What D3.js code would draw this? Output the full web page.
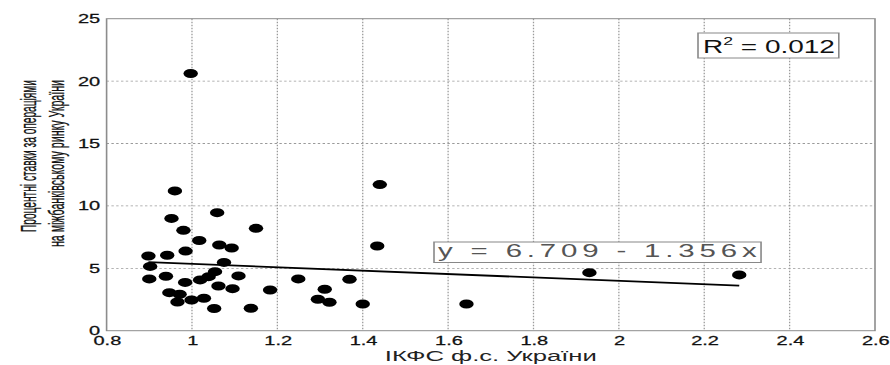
<!DOCTYPE html>
<html>
<head>
<meta charset="utf-8">
<script src="https://cdn.jsdelivr.net/npm/d3@7"></script>
<style>
  body { margin: 0; background: #fff; }
  svg { display: block; }
  text { font-family: "Liberation Sans", Arial, Helvetica, sans-serif; }
</style>
</head>
<body>
<svg id="chart" width="890" height="365"></svg>
<script>
// ІКФС (x) against interbank rates (y), one entry per observation
const ikfs = [
  0.997, 0.960, 1.059, 0.952, 0.980, 1.150, 1.017, 1.440, 1.064, 1.093,
  1.434, 0.898, 0.942, 0.985, 1.075, 0.902, 1.054, 0.900, 0.939, 1.109,
  1.039, 1.019, 0.984, 1.062, 1.095, 1.183, 1.249, 1.369, 1.311, 1.295,
  1.322, 1.400, 1.643, 1.931, 2.282, 0.947, 0.971, 0.966, 0.999, 1.028,
  1.052, 1.138
];
const rates = [
  20.61, 11.20, 9.46, 9.00, 8.04, 8.20, 7.23, 11.71, 6.87, 6.63,
  6.79, 5.99, 6.05, 6.38, 5.47, 5.15, 4.73, 4.15, 4.36, 4.39,
  4.33, 4.07, 3.87, 3.58, 3.37, 3.26, 4.15, 4.12, 3.32, 2.52,
  2.28, 2.14, 2.14, 4.65, 4.47, 3.05, 2.92, 2.30, 2.46, 2.60,
  1.78, 1.80
];

const xTicks = [0.8, 1, 1.2, 1.4, 1.6, 1.8, 2, 2.2, 2.4, 2.6];
const yTicks = [0, 5, 10, 15, 20, 25];

// linear fit y = a + b·x and its R²
const fitIntercept = 6.709;
const fitSlope = -1.356;
const rSquared = 0.012;

const xLabel = "ІКФС ф.с. України";
const yLabelLines = ["Процентні ставки за операціями", "на міжбанківському ринку України"];

// the whole figure is drawn in a horizontally widened frame
const SX = 1.6;
const svg = d3.select("#chart");
svg.append("rect").attr("width", 890).attr("height", 365).attr("fill", "#fff");
const g = svg.append("g").attr("transform", `scale(${SX},1)`);

const x = d3.scaleLinear().domain([0.8, 2.6]).range([106.6 / SX, 875 / SX]);
const y = d3.scaleLinear().domain([0, 25]).range([330.7, 18.7]);

// dotted grid
const grid = g.append("g").attr("fill", "none").attr("stroke", "#9a9a9a")
  .attr("stroke-width", 0.8).attr("stroke-dasharray", "1.5,1.5");
grid.selectAll("line.v").data(xTicks.slice(1, -1)).join("line")
  .attr("class", "v")
  .attr("x1", d => x(d)).attr("x2", d => x(d))
  .attr("y1", y(25)).attr("y2", y(0));
grid.selectAll("line.h").data(yTicks.slice(1, -1)).join("line")
  .attr("class", "h")
  .attr("x1", x(0.8)).attr("x2", x(2.6))
  .attr("y1", d => y(d)).attr("y2", d => y(d));

// axes box
g.append("rect")
  .attr("x", x(0.8)).attr("y", y(25))
  .attr("width", x(2.6) - x(0.8)).attr("height", y(0) - y(25))
  .attr("fill", "none").attr("stroke", "#8c8c8c").attr("stroke-width", 1);

// tick labels
const fmt = d3.format("~g");
const xAxis = g.append("g").attr("transform", `translate(0,${y(0)})`)
  .call(d3.axisBottom(x).tickValues(xTicks).tickSize(0).tickPadding(5.5).tickFormat(fmt));
const yAxis = g.append("g").attr("transform", `translate(${x(0.8)},0)`)
  .call(d3.axisLeft(y).tickValues(yTicks).tickSize(0).tickPadding(4).tickFormat(fmt));
[xAxis, yAxis].forEach(a => {
  a.select(".domain").remove();
  a.selectAll("text").attr("font-size", 12.5).attr("fill", "#111")
    .attr("stroke", "#111").attr("stroke-width", 0.25)
    .attr("font-family", "'Liberation Sans', Arial, sans-serif");
});

// scatter points
g.append("g").selectAll("circle").data(ikfs.map((v, i) => [v, rates[i]])).join("circle")
  .attr("cx", d => x(d[0])).attr("cy", d => y(d[1]))
  .attr("r", 4.5).attr("fill", "#000");

// regression line across the observed x range
const [xMin, xMax] = d3.extent(ikfs);
g.append("line")
  .attr("x1", x(xMin)).attr("y1", y(fitIntercept + fitSlope * xMin))
  .attr("x2", x(xMax)).attr("y2", y(fitIntercept + fitSlope * xMax))
  .attr("stroke", "#000").attr("stroke-width", 1.8);

// equation label
const eqText = `y = ${fitIntercept.toFixed(3)} - ${Math.abs(fitSlope).toFixed(3)}x`;
g.append("rect")
  .attr("x", 271.25).attr("y", 242).attr("width", 204.4).attr("height", 20.5)
  .attr("fill", "#fff").attr("stroke", "#888").attr("stroke-width", 1);
g.append("text")
  .attr("x", 273.8).attr("y", 257.5)
  .attr("font-family", "'Liberation Mono', 'Courier New', monospace")
  .attr("font-size", 18.4).attr("fill", "#555")
  .attr("textLength", 11.06 * eqText.length).attr("lengthAdjust", "spacing")
  .text(eqText);

// R² label
g.append("rect")
  .attr("x", 436.25).attr("y", 33).attr("width", 88).attr("height", 25)
  .attr("fill", "#fff").attr("stroke", "#888").attr("stroke-width", 1);
const r2 = g.append("text").attr("x", 439.4).attr("y", 53)
  .attr("font-size", 17.5).attr("fill", "#111");
r2.append("tspan").text("R");
r2.append("tspan").attr("font-size", 11).attr("dy", -8).text("2");
r2.append("tspan").attr("dy", 8).text(" = " + rSquared.toFixed(3));

// axis titles
g.append("text")
  .attr("x", (x(0.8) + x(2.6)) / 2).attr("y", 361)
  .attr("text-anchor", "middle").attr("font-size", 15.5).attr("fill", "#222")
  .attr("textLength", 212 / SX).attr("lengthAdjust", "spacingAndGlyphs")
  .text(xLabel);

const yLab = g.append("g");
[[22.3, 156, 152], [39.8, 163.5, 167]].forEach(([bx, cy, len], i) => {
  yLab.append("text")
    .attr("transform", `translate(${bx},${cy}) rotate(-90)`)
    .attr("text-anchor", "middle").attr("font-size", 13.5).attr("fill", "#111")
    .attr("stroke", "#111").attr("stroke-width", 0.2)
    .attr("textLength", len).attr("lengthAdjust", "spacingAndGlyphs")
    .text(yLabelLines[i]);
});
</script>
</body>
</html>
